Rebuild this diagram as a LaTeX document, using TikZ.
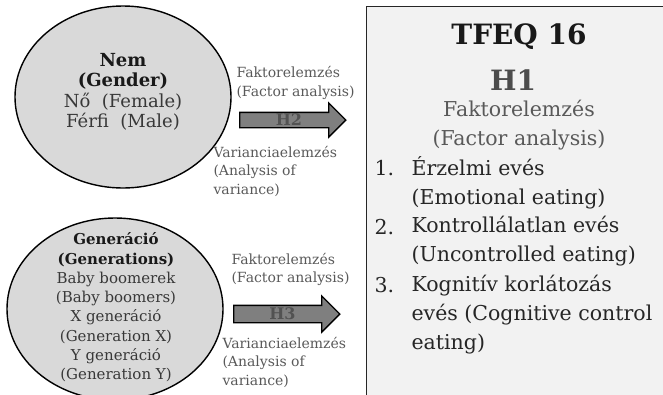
\documentclass[tikz,border=0pt]{standalone}
\usepackage{fontspec}
\setmainfont{DejaVu Serif}
\usetikzlibrary{shapes.geometric,shapes.arrows}

\definecolor{korszin}{HTML}{D9D9D9}
\definecolor{dobozszin}{HTML}{F2F2F2}
\definecolor{nyilszin}{HTML}{7F7F7F}
\definecolor{halvanyszoveg}{HTML}{595959}
\definecolor{sotetszoveg}{HTML}{262626}

\begin{document}
\begin{tikzpicture}[x=1pt,y=-1pt,
    kor/.style={ellipse,draw=black,line width=1.4pt,fill=korszin,
        minimum width=216pt,minimum height=182pt,inner sep=0pt},
    kortext/.style={align=center,text=black!78,font=\fontsize{18}{20.5}\selectfont},
    oldal/.style={align=left,anchor=west,text=halvanyszoveg,font=\fontsize{14}{18.5}\selectfont},
    blokknyil/.style={single arrow,draw=black,line width=1.3pt,fill=nyilszin,
        single arrow head extend=9.5pt,minimum height=106pt,
        text height=10pt,text depth=0pt,inner ysep=2pt,
        text=black!68,font=\fontsize{16}{16}\selectfont\bfseries},
    lista/.style={align=left,anchor=west,text=sotetszoveg,font=\fontsize{20.5}{29.3}\selectfont}]
    \useasboundingbox (0,0) rectangle (663,394);

    % Doboz (TFEQ 16)
    \node[draw=black!85,line width=1.4pt,fill=dobozszin,anchor=north west,
        minimum width=320pt,minimum height=400pt] (doboz) at (366,6) {};
    \node[text=black!90,font=\fontsize{28}{28}\selectfont\bfseries] (cim) at (519,37) {TFEQ 16};
    \node[text=black!70,font=\fontsize{28}{28}\selectfont\bfseries] (hegy) at (513,80) {H1};
    \node[align=center,text=halvanyszoveg,font=\fontsize{20.5}{29.3}\selectfont] (faktor) at (519,125) {Faktorelemzés\\(Factor analysis)};

    % Lista
    \node[lista] (szam1) at (371,168) {1.};
    \node[lista] (elem1) at (408,182.6) {Érzelmi evés\\(Emotional eating)};
    \node[lista] (szam2) at (371,226.6) {2.};
    \node[lista] (elem2) at (408,241.2) {Kontrollálatlan evés\\(Uncontrolled eating)};
    \node[lista] (szam3) at (371,285.2) {3.};
    \node[lista] (elem3) at (408,314.5) {Kognitív korlátozás\\evés (Cognitive control\\eating)};

    % Ellipszisek
    \node[kor] (nem) at (123,97) {};
    \node[kortext] (nemtext) at (123,92)
        {\textcolor{black!90}{\bfseries Nem}\\\textcolor{black!90}{\bfseries (Gender)}\\Nő~ (Female)\\Férfi~ (Male)};
    \node[kor] (generacio) at (115,309) {};
    \node[kortext,font=\fontsize{15}{19.3}\selectfont] (gentext) at (116,307.5)
        {\textcolor{black!90}{\bfseries Generáció}\\\textcolor{black!90}{\bfseries (Generations)}\\Baby boomerek\\(Baby boomers)\\X generáció\\(Generation X)\\Y generáció\\(Generation Y)};

    % Nyilak
    \node[blokknyil] (h2) at (289,120) {H2};
    \node[blokknyil,inner ysep=3pt] (h3) at (282.5,314) {H3};

    % Feliratok
    \node[oldal] (fakt2) at (233,83) {Faktorelemzés\\(Factor analysis)};
    \node[oldal] (var2) at (210,171) {Varianciaelemzés\\(Analysis of\\variance)};
    \node[oldal] (fakt3) at (228,269.5) {Faktorelemzés\\(Factor analysis)};
    \node[oldal] (var3) at (219,362) {Varianciaelemzés\\(Analysis of\\variance)};
\end{tikzpicture}
\end{document}
